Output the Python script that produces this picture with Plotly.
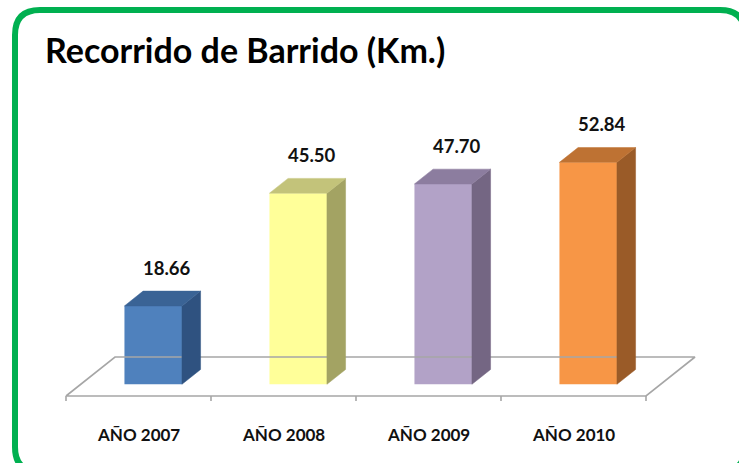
import plotly.graph_objects as go

# ---- data ----
categories = ["AÑO 2007", "AÑO 2008", "AÑO 2009", "AÑO 2010"]
values = [18.66, 45.50, 47.70, 52.84]
value_labels = ["18.66", "45.50", "47.70", "52.84"]
title_text = "Recorrido de Barrido (Km.)"

front_colors = ["#4F81BD", "#FFFF99", "#B2A2C7", "#F79646"]
top_colors = ["#3A6395", "#C3C37A", "#8C7D9F", "#BE7233"]
side_colors = ["#2F5280", "#A3A363", "#746683", "#9A5B28"]

# ---- geometry (in axis units) ----
W, H = 739, 463
px_x = 145.0          # pixels per category unit
px_y = 4.2            # pixels per value unit
Dx = 49 / px_x        # floor depth offset (x)
Dy = 39 / px_y        # floor depth offset (y)
f0, f1 = 0.30, 0.68   # bar front/back depth fraction
bw = 57.5 / px_x      # bar width
x0 = -0.5 - 66 / px_x
xr = [x0, x0 + W / px_x]
y1 = 396 / px_y
yr = [y1 - H / px_y, y1]

n = len(categories)
fig = go.Figure()

# floor
fl_x = [-0.5, n - 0.5, n - 0.5 + Dx, -0.5 + Dx, -0.5]
fl_y = [0, 0, Dy, Dy, 0]
fig.add_trace(go.Scatter(x=fl_x, y=fl_y, mode="lines",
                         line=dict(color="#A6A6A6", width=1.6),
                         hoverinfo="skip", showlegend=False))
# ticks
tk_x, tk_y = [], []
for k in range(n + 1):
    tk_x += [k - 0.5, k - 0.5, None]
    tk_y += [0, -5 / px_y, None]
fig.add_trace(go.Scatter(x=tk_x, y=tk_y, mode="lines",
                         line=dict(color="#A6A6A6", width=1.6),
                         hoverinfo="skip", showlegend=False))

bdx = (f1 - f0) * Dx
bdy = (f1 - f0) * Dy
yb = f0 * Dy
for i, v in enumerate(values):
    cx = i + f0 * Dx
    xl, xrr = cx - bw / 2, cx + bw / 2
    top = yb + v
    # side face
    fig.add_trace(go.Scatter(
        x=[xrr, xrr, xrr + bdx, xrr + bdx, xrr],
        y=[yb, top, top + bdy, yb + bdy, yb],
        fill="toself", fillcolor=side_colors[i], mode="lines",
        line=dict(color=side_colors[i], width=0.5),
        hoverinfo="skip", showlegend=False))
    # top face
    fig.add_trace(go.Scatter(
        x=[xl, xrr, xrr + bdx, xl + bdx, xl],
        y=[top, top, top + bdy, top + bdy, top],
        fill="toself", fillcolor=top_colors[i], mode="lines",
        line=dict(color=top_colors[i], width=0.5),
        hoverinfo="skip", showlegend=False))
    # front face
    fig.add_trace(go.Bar(x=[cx], y=[v], base=[yb], width=[bw],
                         marker=dict(color=front_colors[i], line=dict(width=0)),
                         hoverinfo="skip", showlegend=False))
    # value label
    fig.add_annotation(x=cx + 13.5 / px_x, y=top + 38 / px_y,
                       text="<b>" + value_labels[i] + "</b>",
                       showarrow=False, xanchor="center", yanchor="middle",
                       font=dict(family="Lato", size=18.5, color="#111111"))
    # category label
    fig.add_annotation(x=i, y=-38 / px_y, text="<b>" + categories[i] + "</b>",
                       showarrow=False, xanchor="center", yanchor="middle",
                       font=dict(family="Lato", size=17, color="#111111"))

# title
fig.add_annotation(xref="paper", yref="paper", x=43 / W, y=1 - 50 / H,
                   text="<b>" + title_text + "</b>", showarrow=False,
                   xanchor="left", yanchor="middle",
                   font=dict(family="Lato", size=34, color="#000000"))

# green rounded border
L, T, R, B, r = 15 / W, 1 - 10 / H, 745 / W, 1 - 472 / H, 25
rx, ry = r / W, r / H
path = (f"M {L + rx},{T} L {R - rx},{T} Q {R},{T} {R},{T - ry} "
        f"L {R},{B + ry} Q {R},{B} {R - rx},{B} L {L + rx},{B} "
        f"Q {L},{B} {L},{B + ry} L {L},{T - ry} Q {L},{T} {L + rx},{T} Z")
fig.add_shape(type="path", path=path, xref="paper", yref="paper",
              line=dict(color="#00B050", width=6))

fig.update_layout(
    width=W, height=H, margin=dict(l=0, r=0, t=0, b=0),
    paper_bgcolor="white", plot_bgcolor="white",
    xaxis=dict(range=xr, visible=False, fixedrange=True),
    yaxis=dict(range=yr, visible=False, fixedrange=True),
    barmode="overlay", showlegend=False,
)
fig.write_html("out.html", config={"displayModeBar": False},
               post_script="document.body.style.margin='0';document.body.style.overflow='hidden';")
